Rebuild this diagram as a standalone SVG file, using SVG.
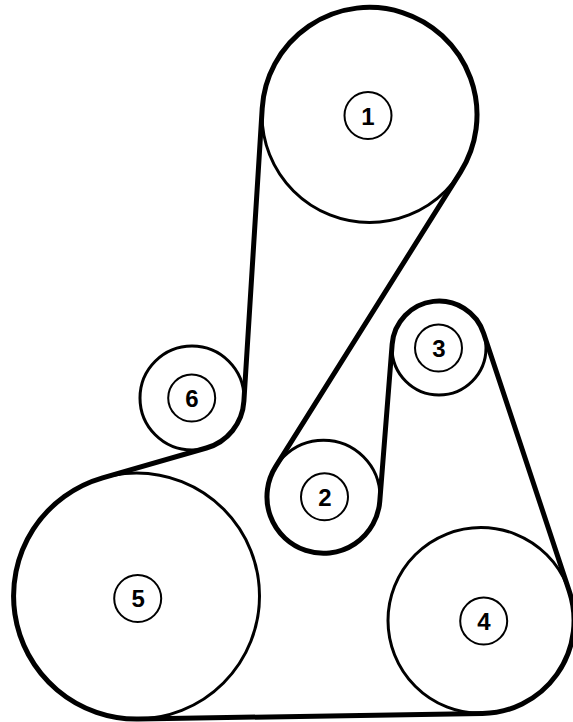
<svg xmlns="http://www.w3.org/2000/svg" width="573" height="722" viewBox="0 0 573 722">
<style>
.p{fill:none;stroke:#000;stroke-width:3}
.h{fill:#fff;stroke:#000;stroke-width:2}
.t{font-family:"Liberation Sans",Arial,sans-serif;font-weight:bold;font-size:24px;text-anchor:middle;fill:#000}
.b{fill:none;stroke:#000;stroke-width:5;stroke-linejoin:round}
</style>
<rect width="573" height="722" fill="#fff"/>
<g id="pulley-1"><circle class="p" cx="369.5" cy="115" r="107.5"/><circle class="h" cx="368" cy="115.500" r="23.500"/><text class="t" x="368" y="124.500">1</text></g>
<g id="pulley-2"><circle class="p" cx="323.500" cy="496.700" r="56.500"/><circle class="h" cx="324.500" cy="496.800" r="23.500"/><text class="t" x="325" y="505.500">2</text></g>
<g id="pulley-3"><circle class="p" cx="439" cy="348" r="47"/><circle class="h" cx="438.500" cy="348" r="23.500"/><text class="t" x="439" y="356.500">3</text></g>
<g id="pulley-4"><circle class="p" cx="481" cy="620.500" r="93"/><circle class="h" cx="483.700" cy="621" r="23.500"/><text class="t" x="484" y="629.500">4</text></g>
<g id="pulley-5"><circle class="p" cx="136.500" cy="596" r="123"/><circle class="h" cx="137.700" cy="598.500" r="23.500"/><text class="t" x="138.300" y="607">5</text></g>
<g id="pulley-6"><circle class="p" cx="192" cy="398" r="52"/><circle class="h" cx="191.700" cy="398" r="23.500"/><text class="t" x="192" y="406.500">6</text></g>
<g id="connectors"><path class="b" d="M262.200,108.300 A107.500,107.500 0 1 1 460.500,172.100 L275.650,466.700 A56.500,56.500 0 1 0 379.800,501.100 L392.150,344.300 A47,47 0 0 1 483.600,333.200 L569.300,591.200 A93,93 0 0 1 482.500,713.500 L138.500,719 A123,123 0 0 1 102.600,477.800 L206.350,448 A52,52 0 0 0 243.900,401.200 Z"/></g>
</svg>
